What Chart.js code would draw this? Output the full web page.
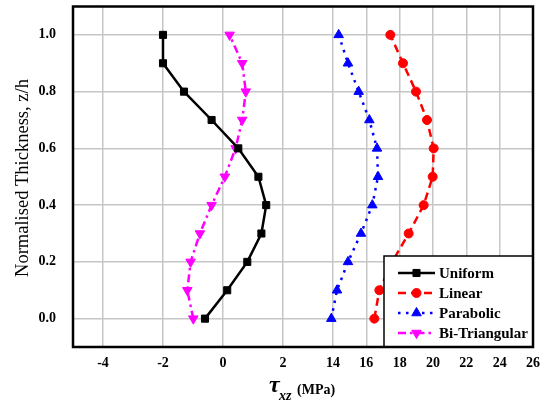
<!DOCTYPE html>
<html>
<head>
<meta charset="utf-8">
<script src="https://cdn.jsdelivr.net/npm/chart.js@4"></script>
<style>
  html, body { margin: 0; padding: 0; background: #fff; }
</style>
</head>
<body>
<canvas id="shearChart" width="552" height="405"></canvas>
<script>
// ─── through-thickness shear stress profiles ───────────────────
const zh = [0.0, 0.1, 0.2, 0.3, 0.4, 0.5, 0.6, 0.7, 0.8, 0.9, 1.0];

// tau_xz (MPa), listed from z/h = 0 to z/h = 1
const uniform   = [-0.60, 0.14, 0.81, 1.28, 1.44, 1.18, 0.51, -0.38, -1.30, -2.00, -2.00];
const biTri     = [-0.99, -1.19, -1.08, -0.77, -0.38, 0.06, 0.42, 0.64, 0.76, 0.64, 0.22];
const linear    = [16.48, 16.78, 17.55, 18.54, 19.44, 19.98, 20.04, 19.64, 18.98, 18.20, 17.44];
const parabolic = [13.90, 14.24, 14.90, 15.68, 16.36, 16.70, 16.64, 16.18, 15.54, 14.90, 14.34];

// broken x axis: two ranges side by side
const ticksLeft  = [-4, -2, 0, 2];
const ticksRight = [14, 16, 18, 20, 22, 24, 26];
const ticksZ     = [0.0, 0.2, 0.4, 0.6, 0.8, 1.0];

const SERIF = '"Liberation Serif", "Times New Roman", serif';
const GRID = '#c6c6c6';

const pts = vals => vals.map((v, i) => ({ x: v, y: zh[i] }));

const datasets = [
  { label: 'Uniform', data: pts(uniform), xAxisID: 'xL',
    borderColor: '#000', backgroundColor: '#000', borderWidth: 2.5,
    pointStyle: 'rect', pointRadius: 5, pointBorderWidth: 1 },
  { label: 'Linear', data: pts(linear), xAxisID: 'xR',
    borderColor: '#ff0000', backgroundColor: '#ff0000', borderWidth: 2.5, borderDash: [8, 5],
    pointStyle: 'circle', pointRadius: 4.5, pointBorderWidth: 1 },
  { label: 'Parabolic', data: pts(parabolic), xAxisID: 'xR',
    borderColor: '#0000ff', backgroundColor: '#0000ff', borderWidth: 2.5, borderDash: [2.5, 5.5],
    pointStyle: 'triangle', pointRadius: 5.5, pointBorderWidth: 1 },
  { label: 'Bi-Triangular', data: pts(biTri), xAxisID: 'xL',
    borderColor: '#ff00ff', backgroundColor: '#ff00ff', borderWidth: 2.5, borderDash: [8, 4, 2.5, 4],
    pointStyle: 'triangle', pointRotation: 180, pointRadius: 5.5, pointBorderWidth: 1 }
];

const tickFont = { family: SERIF, size: 14, weight: 'bold' };

function xScale(min, max, weight, ticks) {
  return {
    type: 'linear', position: 'bottom', stack: 'tau', stackWeight: weight,
    min, max,
    afterBuildTicks: s => { s.ticks = ticks.map(v => ({ value: v })); },
    afterFit: s => { s.height = 58; s.paddingLeft = 0; s.paddingRight = 0; },
    grid: { color: GRID, lineWidth: 1.5, drawTicks: false },
    border: { display: false },
    ticks: { color: '#000', font: tickFont, padding: 8, maxRotation: 0, callback: v => String(v) }
  };
}

// legend box, axis titles and frame
const decorations = {
  id: 'decorations',
  afterDraw(chart) {
    const { ctx, chartArea: a } = chart;
    ctx.save();

    // legend in the lower right corner
    const lx = 384, ly = 256, lw = a.right - lx, lh = a.bottom - ly;
    ctx.fillStyle = '#fff';
    ctx.fillRect(lx, ly, lw, lh);
    ctx.lineWidth = 1.5;
    ctx.strokeStyle = '#000';
    ctx.strokeRect(lx, ly, lw, lh);

    chart.data.datasets.forEach((ds, i) => {
      const y = 273 + i * 20;
      ctx.beginPath();
      ctx.setLineDash(ds.borderDash || []);
      ctx.lineWidth = ds.borderWidth;
      ctx.strokeStyle = ds.borderColor;
      ctx.moveTo(398, y);
      ctx.lineTo(435, y);
      ctx.stroke();
      ctx.setLineDash([]);
      ctx.fillStyle = ds.backgroundColor;
      ctx.lineWidth = 1;
      Chart.helpers.drawPoint(ctx, {
        pointStyle: ds.pointStyle, rotation: ds.pointRotation || 0,
        radius: ds.pointRadius, borderWidth: 1
      }, 416.5, y);
      ctx.fillStyle = '#000';
      ctx.font = 'bold 15px ' + SERIF;
      ctx.textBaseline = 'middle';
      ctx.textAlign = 'left';
      ctx.fillText(ds.label, 439, y + 1);
    });

    // plot frame
    ctx.lineWidth = 2.5;
    ctx.strokeStyle = '#000';
    ctx.strokeRect(a.left, a.top, a.right - a.left, a.bottom - a.top);

    // y title
    ctx.fillStyle = '#000';
    ctx.save();
    ctx.translate(23, 178);
    ctx.rotate(-Math.PI / 2);
    ctx.font = '18.5px ' + SERIF;
    ctx.textAlign = 'center';
    ctx.textBaseline = 'middle';
    ctx.fillText('Normalised Thickness, z/h', 0, 0);
    ctx.restore();

    // x title: tau_xz (MPa)
    ctx.textAlign = 'left';
    ctx.textBaseline = 'alphabetic';
    ctx.font = 'italic bold 24px ' + SERIF;
    ctx.fillText('\u03C4', 269, 392);
    ctx.font = 'italic bold 14px ' + SERIF;
    ctx.fillText('xz', 279, 400);
    ctx.font = 'bold 14px ' + SERIF;
    ctx.fillText('(MPa)', 297, 394);

    ctx.restore();
  }
};

new Chart(document.getElementById('shearChart'), {
  type: 'line',
  data: { datasets },
  plugins: [decorations],
  options: {
    responsive: false,
    animation: false,
    layout: { padding: { left: 0, right: 19, top: 5, bottom: 0 } },
    plugins: { legend: { display: false }, tooltip: { enabled: false } },
    scales: {
      xL: xScale(-5, 3, 240, ticksLeft),
      xR: xScale(12.8, 26, 220, ticksRight),
      y: {
        type: 'linear', min: -0.1, max: 1.1,
        afterBuildTicks: s => { s.ticks = ticksZ.map(v => ({ value: v })); },
        afterFit: s => { s.width = 73; s.paddingTop = 0; s.paddingBottom = 0; },
        grid: { color: GRID, lineWidth: 1.5, drawTicks: false },
        border: { display: false },
        ticks: { color: '#000', font: tickFont, padding: 17, callback: v => v.toFixed(1) }
      }
    }
  }
});
</script>
</body>
</html>
